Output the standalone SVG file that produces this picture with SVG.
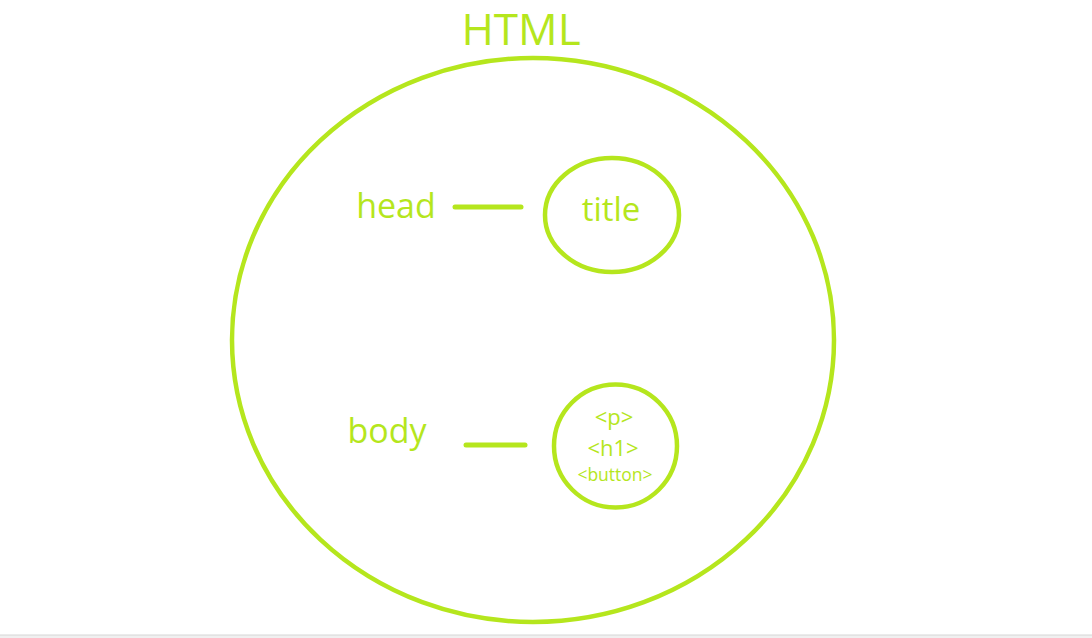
<svg xmlns="http://www.w3.org/2000/svg" width="1092" height="638" viewBox="0 0 1092 638">
<style>
.sh{fill:none;stroke:#b5e61d;stroke-width:4.5}
.ln{stroke:#b5e61d;stroke-width:5;stroke-linecap:round}
text{font-family:"Open Sans","Noto Sans",sans-serif;fill:#b5e61d;text-anchor:middle}
</style>
<rect width="1092" height="638" fill="#ffffff"/>
<g id="html">
<ellipse class="sh" cx="533" cy="340" rx="301" ry="282"/>
<text x="521" y="45" font-size="44">HTML</text>
</g>
<g id="head"><text x="396" y="218" font-size="34">head</text></g>
<g id="title">
<ellipse class="sh" cx="612" cy="215" rx="67" ry="57"/>
<text x="611" y="221" font-size="33">title</text>
</g>
<g id="body"><text x="387" y="443" font-size="34">body</text></g>
<g id="bodychildren">
<circle class="sh" cx="615.5" cy="446" r="61.5"/>
<text x="614" y="425" font-size="22">&lt;p&gt;</text>
<text x="613" y="456" font-size="22">&lt;h1&gt;</text>
<text x="615" y="481" font-size="17.5">&lt;button&gt;</text>
</g>
<g id="connectors">
<line class="ln" x1="455" y1="207" x2="521" y2="207"/>
<line class="ln" x1="466" y1="445" x2="525" y2="445"/>
</g>
<rect x="0" y="635" width="1092" height="3" fill="#f0f0f0"/>
<line x1="0" y1="635" x2="1092" y2="635" stroke="#d6d6d6" stroke-width="1"/>
</svg>
